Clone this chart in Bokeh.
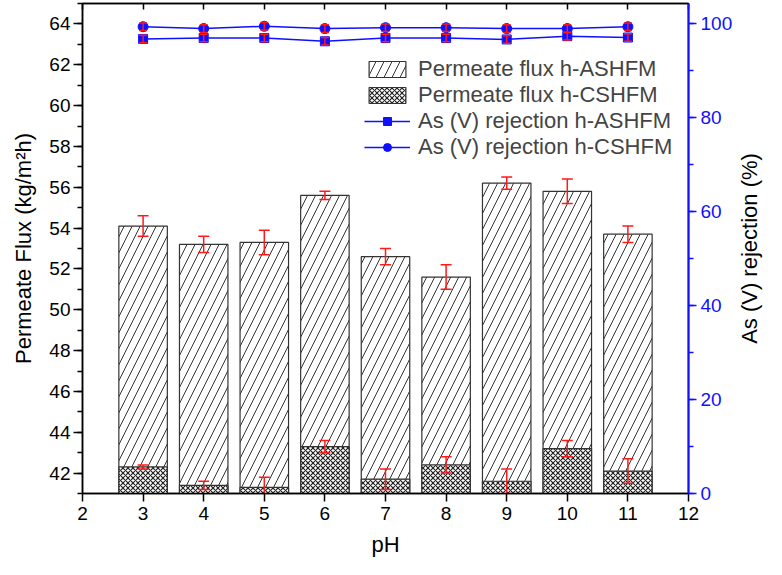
import math
from bokeh.plotting import figure
from bokeh.models import Range1d, LinearAxis, SingleIntervalTicker, Legend, LegendItem, Label
from bokeh.embed import file_html
from bokeh.resources import INLINE

# ---- data ----
ph = [3, 4, 5, 6, 7, 8, 9, 10, 11]
flux_ashfm = [54.1, 53.2, 53.3, 55.6, 52.6, 51.6, 56.2, 55.8, 53.7]
flux_ashfm_err = [0.5, 0.4, 0.6, 0.2, 0.4, 0.6, 0.3, 0.6, 0.4]
flux_cshfm = [42.3, 41.4, 41.3, 43.3, 41.7, 42.4, 41.6, 43.2, 42.1]
flux_cshfm_err = [0.1, 0.2, 0.5, 0.3, 0.5, 0.4, 0.6, 0.4, 0.6]
rej_ashfm = [96.8, 97.0, 97.0, 96.3, 97.0, 97.0, 96.7, 97.4, 97.1]
rej_ashfm_err = [0.8, 0.8, 0.8, 0.8, 0.8, 0.8, 0.8, 0.8, 0.8]
rej_cshfm = [99.4, 99.0, 99.5, 99.0, 99.2, 99.2, 99.0, 99.0, 99.4]
rej_cshfm_err = [0.8, 0.8, 0.8, 0.8, 0.8, 0.8, 0.8, 0.8, 0.8]

FONT = "Liberation Sans"
BLUE = "#1010ff"
RED = "#ff1a1a"

W, H = 766, 559
BL, BR, BT, BB = 82, 78, 3, 66

p = figure(width=W, height=H, output_backend="svg", toolbar_location=None,
           x_range=Range1d(2, 12), y_range=Range1d(41, 65),
           min_border_left=BL, min_border_right=BR, min_border_top=BT, min_border_bottom=BB)
p.extra_y_ranges = {"rej": Range1d(0, 104.35)}
p.xgrid.visible = False
p.ygrid.visible = False
p.outline_line_color = "black"
p.outline_line_width = 1.5

# bars
r_a = p.vbar(x=ph, top=flux_ashfm, bottom=0, width=0.8, fill_color="white",
             line_color="#333333", line_width=1.2, hatch_pattern="/",
             hatch_color="#333333", hatch_scale=16, hatch_weight=1)
r_c = p.vbar(x=ph, top=flux_cshfm, bottom=0, width=0.8, fill_color="white",
             line_color="#333333", line_width=1.2, hatch_pattern="x",
             hatch_color="#222222", hatch_scale=5, hatch_weight=1.2)

def errbars(xs, ys, es, y_range_name="default", cap=11):
    lo = [y - e for y, e in zip(ys, es)]
    hi = [y + e for y, e in zip(ys, es)]
    p.segment(x0=xs, y0=lo, x1=xs, y1=hi, line_color=RED, line_width=1.5,
              y_range_name=y_range_name)
    p.scatter(x=xs + xs, y=lo + hi, marker="dash", size=cap, line_color=RED,
              line_width=1.5, y_range_name=y_range_name)

errbars(ph, flux_ashfm, flux_ashfm_err)
errbars(ph, flux_cshfm, flux_cshfm_err)

# rejection lines
l_a = p.line(ph, rej_ashfm, line_color=BLUE, line_width=1.5, y_range_name="rej")
m_a = p.scatter(ph, rej_ashfm, marker="square", size=9, fill_color=BLUE, line_color=BLUE,
                y_range_name="rej")
l_c = p.line(ph, rej_cshfm, line_color=BLUE, line_width=1.5, y_range_name="rej")
m_c = p.scatter(ph, rej_cshfm, marker="circle", size=10, fill_color=BLUE, line_color=BLUE,
                y_range_name="rej")
errbars(ph, rej_ashfm, rej_ashfm_err, "rej", cap=8)
errbars(ph, rej_cshfm, rej_cshfm_err, "rej", cap=8)

# axes styling
xa = p.xaxis[0]
xa.ticker = SingleIntervalTicker(interval=1, num_minor_ticks=0)
xa.axis_label = "pH"
ya = p.yaxis[0]
ya.ticker = SingleIntervalTicker(interval=2, num_minor_ticks=2)
ya.axis_label = "Permeate Flux (kg/m\u00b2h)"
for ax in (xa, ya):
    ax.axis_label_text_font = FONT
    ax.axis_label_text_font_size = "22px"
    ax.axis_label_text_font_style = "normal"
    ax.axis_label_text_color = "black"
    ax.major_label_text_font = FONT
    ax.major_label_text_font_size = "19px"
    ax.major_label_text_color = "black"
    ax.axis_line_width = 1.5
    ax.major_tick_line_width = 1.5
    ax.minor_tick_line_width = 1.5
    ax.major_tick_in = 0
    ax.minor_tick_in = 0
xa.major_tick_out = 8
xa.major_label_standoff = 5
xa.axis_label_standoff = 9
ya.major_tick_out = 9
ya.minor_tick_out = 5
ya.major_label_standoff = 3
ya.axis_label_standoff = 10

ra = LinearAxis(y_range_name="rej",
                ticker=SingleIntervalTicker(interval=20, num_minor_ticks=2))
ra.axis_line_color = BLUE
ra.axis_line_width = 2
ra.major_tick_line_color = BLUE
ra.minor_tick_line_color = BLUE
ra.major_tick_line_width = 1.5
ra.minor_tick_line_width = 1.5
ra.major_tick_in = 0
ra.minor_tick_in = 0
ra.major_tick_out = 8
ra.minor_tick_out = 5
ra.major_label_text_color = BLUE
ra.major_label_text_font = FONT
ra.major_label_text_font_size = "19px"
ra.major_label_standoff = 4
p.add_layout(ra, "right")

# right axis title, reading bottom-to-top, centred on the frame height
frame_h = H - BT - BB
p.add_layout(Label(text="As (V) rejection (%)", x=14, y=frame_h / 2,
                   x_units="screen", y_units="screen", angle=math.pi / 2,
                   text_align="center", text_baseline="middle",
                   text_font=FONT, text_font_size="22px", text_color="black"), "right")

ta = LinearAxis(ticker=SingleIntervalTicker(interval=1, num_minor_ticks=0))
ta.major_label_overrides = {i: "" for i in range(2, 13)}
ta.major_label_standoff = 0
ta.major_tick_in = 6
ta.major_tick_out = 0
ta.major_tick_line_width = 1.5
ta.axis_line_width = 1.5
p.add_layout(ta, "above")

legend = Legend(items=[
    LegendItem(label="Permeate flux h-ASHFM", renderers=[r_a]),
    LegendItem(label="Permeate flux h-CSHFM", renderers=[r_c]),
    LegendItem(label="As (V) rejection h-ASHFM", renderers=[l_a, m_a]),
    LegendItem(label="As (V) rejection h-CSHFM", renderers=[l_c, m_c]),
], location=(282, 333), glyph_width=46, glyph_height=20, label_height=20,
    spacing=0, padding=0, label_standoff=8,
    label_text_font=FONT, label_text_font_size="22px",
    border_line_alpha=0, background_fill_alpha=0)
p.add_layout(legend)

open("out.html", "w").write(file_html(p, INLINE))
